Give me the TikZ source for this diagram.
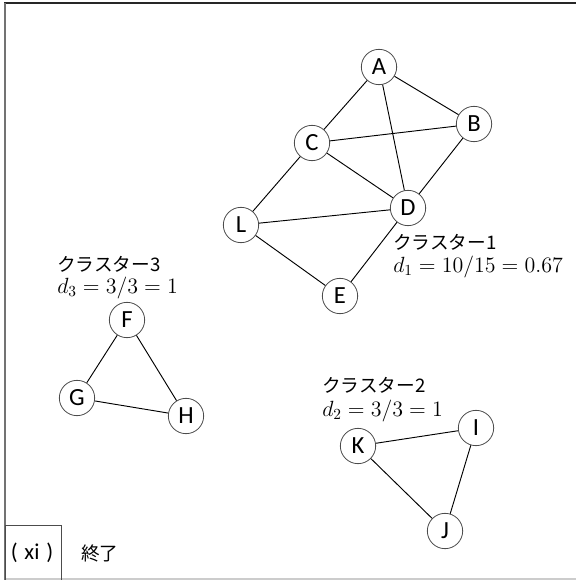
\RequirePackage{fix-cm}
\documentclass[tikz,border=0pt]{standalone}
\usepackage{fontspec}
\setmainfont{Carlito}
\newfontfamily\jpfont{Noto Sans CJK JP}
\begin{document}
\begin{tikzpicture}[x=0.75pt,y=-0.75pt,
  vtx/.style={circle,draw=black!70,fill=white,line width=0.6pt,minimum size=26.5pt,inner sep=0pt,font=\fontsize{18.5}{20}\selectfont},
  edge/.style={draw=black,line width=0.7pt},
  lbl/.style={anchor=west,inner sep=0pt,font=\jpfont\fontsize{14}{16}\selectfont},
  mth/.style={anchor=west,inner sep=0pt,font=\fontsize{16.5}{19}\selectfont}]
\useasboundingbox (0,0) rectangle (576,580);
\fill[white] (0,0) rectangle (576,580);
% frame
\draw[black!85,line width=1.5pt] (4,3) -- (576,3);
\draw[black!55,line width=1.2pt] (5,3) -- (5,580);
\draw[black!20,line width=1pt] (5,579) -- (576,579);
\node[draw=black!70,line width=0.8pt,minimum width=42pt,minimum height=41.25pt,inner sep=0pt,anchor=north west] (box) at (5,525) {};
\node[inner sep=0pt,font=\fontsize{17}{19}\selectfont] (xi) at (32,553) {(\hspace{0.3em}xi\hspace{0.3em})};
\node[inner sep=0pt,anchor=west,font=\jpfont\fontsize{14}{16}\selectfont] (end) at (81,553) {終了};
% cluster 1
\node[vtx] (A) at (379,67) {A};
\node[vtx] (B) at (474,124) {B};
\node[vtx] (C) at (312,143) {C};
\node[vtx] (D) at (408,208) {D};
\node[vtx] (L) at (241,225) {L};
\node[vtx] (E) at (340,296) {E};
\foreach \u/\v in {A/C,A/B,A/D,C/B,C/D,B/D,C/L,L/D,L/E,D/E}
  \draw[edge] (\u) -- (\v);
% cluster 3
\node[vtx] (F) at (127,320) {F};
\node[vtx] (G) at (77,398) {G};
\node[vtx] (H) at (186,416) {H};
\foreach \u/\v in {F/G,F/H,G/H}
  \draw[edge] (\u) -- (\v);
% cluster 2
\node[vtx] (I) at (476,428) {I};
\node[vtx] (K) at (358,446) {K};
\node[vtx] (J) at (445,531) {J};
\foreach \u/\v in {K/I,I/J,K/J}
  \draw[edge] (\u) -- (\v);
% labels
\node[lbl] (c1) at (393,242) {クラスター1};
\node[mth] (d1) at (393,267) {$d_1 = 10/15 = 0.67$};
\node[lbl] (c3) at (57,264) {クラスター3};
\node[mth] (d3) at (57,288) {$d_3 = 3/3 = 1$};
\node[lbl] (c2) at (322,385) {クラスター2};
\node[mth] (d2) at (322,411) {$d_2 = 3/3 = 1$};
\end{tikzpicture}
\end{document}
